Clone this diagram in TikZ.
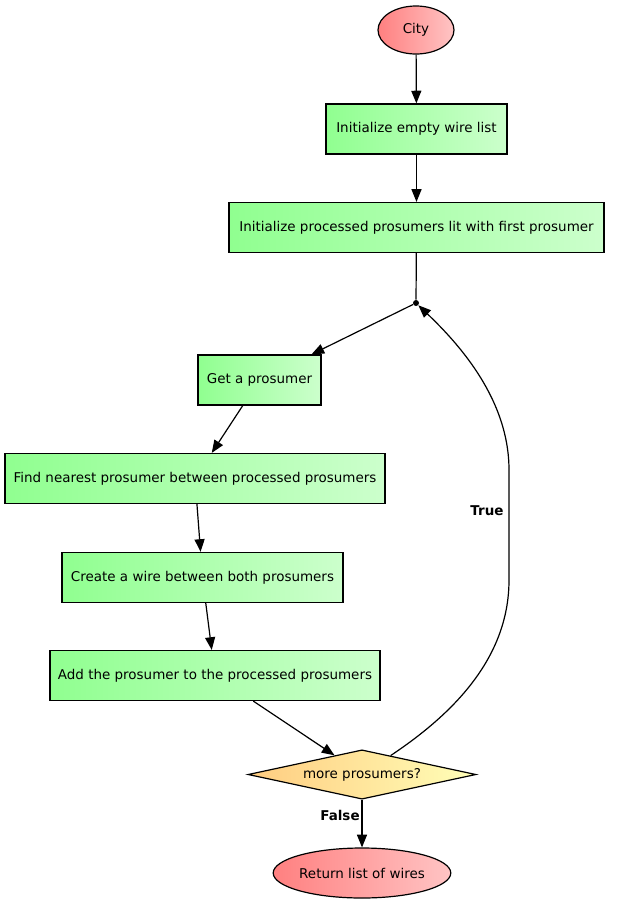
\documentclass[tikz,border=0pt]{standalone}
\usepackage{fontspec}
\setmainfont{DejaVu Sans}
\usetikzlibrary{shapes.geometric,arrows.meta,calc}
\definecolor{gL}{HTML}{90FF90}
\definecolor{gR}{HTML}{CCFFCC}
\definecolor{rL}{HTML}{FF8080}
\definecolor{rR}{HTML}{FFC4C4}
\definecolor{yL}{HTML}{FFCC80}
\definecolor{yR}{HTML}{FFFFB8}
\tikzset{
  txt/.style={font=\fontsize{10.1pt}{12pt}\selectfont},
  box/.style={draw, line width=0.9pt, rectangle, shading=axis, left color=gL, right color=gR, shading angle=90, minimum height=37.5pt, inner sep=0pt, txt},
  oval/.style={draw, line width=0.9pt, ellipse, left color=rL, right color=rR, inner sep=0pt, txt},
  dia/.style={draw, line width=0.9pt, diamond, aspect=4.65, left color=yL, right color=yR, inner sep=0pt, txt},
  arr/.style={draw, line width=0.9pt, -{Triangle[length=9.5pt,width=7.5pt]}},
  lbl/.style={font=\bfseries\fontsize{10.1pt}{12pt}\selectfont},
}
\begin{document}
\begin{tikzpicture}[x=0.75pt,y=-0.75pt]
\useasboundingbox (0,0) rectangle (617,911);
\node[oval, minimum width=57pt, minimum height=36pt] (city) at (416,30) {City};
\node[box, minimum width=135.75pt] (b1) at (416.5,129) {Initialize empty wire list};
\node[box, minimum width=281.25pt] (b2) at (416.5,227.5) {Initialize processed prosumers lit with first prosumer};
\node[circle, fill=black, inner sep=0pt, minimum size=4.5pt] (dot) at (416,303) {};
\node[box, minimum width=92.25pt] (b3) at (259.5,380) {Get a prosumer};
\node[box, minimum width=285pt] (b4) at (195,478.5) {Find nearest prosumer between processed prosumers};
\node[box, minimum width=210.75pt] (b5) at (202.5,577.5) {Create a wire between both prosumers};
\node[box, minimum width=247.5pt] (b6) at (215,675.5) {Add the prosumer to the processed prosumers};
\node[dia, minimum width=171pt, minimum height=37pt] (d) at (362,774.5) {more prosumers?};
\node[oval, minimum width=130.5pt, minimum height=37.5pt] (ret) at (362,873) {Return list of wires};
\draw[arr] (city) -- (b1);
\draw[arr] (b1) -- (b2);
\draw[line width=0.9pt] (b2) -- (dot);
\draw[arr] (dot) -- (b3);
\draw[arr] (b3) -- (b4);
\draw[arr] (b4) -- (b5);
\draw[arr] (b5) -- (b6);
\draw[arr] (b6) -- ($(d.north)!0.24!(d.west)$);
\draw[arr] ($(d.north)!0.25!(d.east)$) .. controls (450,716) and (509,660) .. (509,580) -- (509,470) .. controls (509,400) and (460,345) .. (dot);
\draw[arr] (d) -- (ret);
\node[lbl] (t) at (487,511) {True};
\node[lbl] (f) at (340,815) {False};
\end{tikzpicture}
\end{document}
